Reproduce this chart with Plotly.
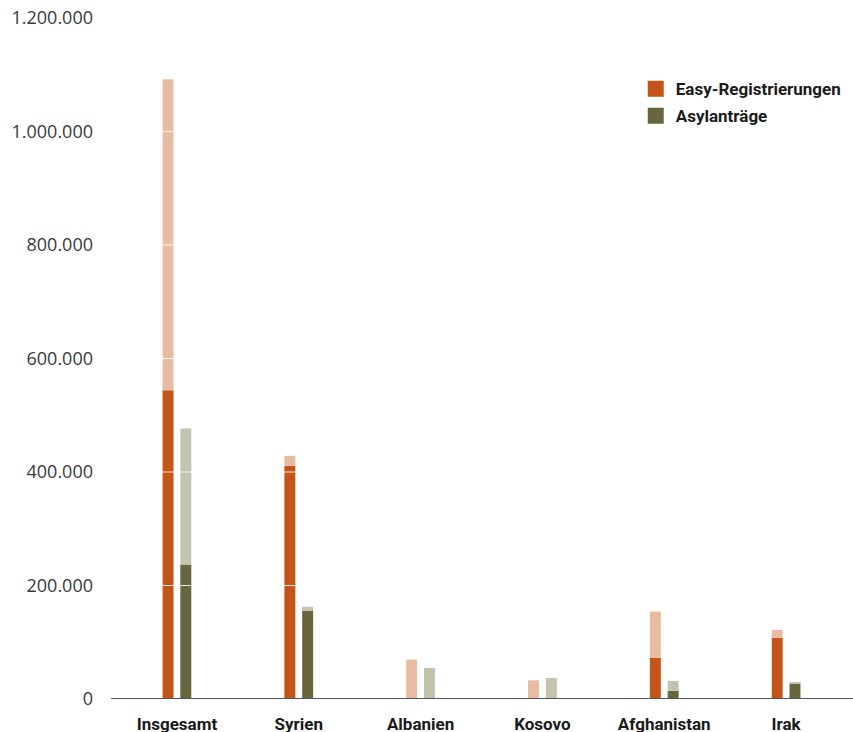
import plotly.graph_objects as go

categories = ["Insgesamt", "Syrien", "Albanien", "Kosovo", "Afghanistan", "Irak"]
easy_total = [1092000, 428500, 69400, 33000, 154000, 121700]
easy_dark = [544000, 411000, 1500, 1500, 72800, 108000]
asyl_total = [476600, 162500, 54800, 37100, 31900, 29800]
asyl_dark = [237000, 155000, 1500, 1500, 14600, 27000]
y_ticks = [0, 200000, 400000, 600000, 800000, 1000000, 1200000]

C_EASY = "#C55418"
C_EASY_L = "#E8BCA3"
C_ASYL = "#68663E"
C_ASYL_L = "#C3C3B0"

easy_light = [t - d for t, d in zip(easy_total, easy_dark)]
asyl_light = [t - d for t, d in zip(asyl_total, asyl_dark)]

W = 0.09
fig = go.Figure()
fig.add_trace(go.Bar(x=categories, y=easy_dark, base=[0]*6, marker_color=C_EASY,
                     width=W, offset=-0.028 - W, showlegend=False, hoverinfo="skip"))
fig.add_trace(go.Bar(x=categories, y=easy_light, base=easy_dark, marker_color=C_EASY_L,
                     width=W, offset=-0.028 - W, showlegend=False, hoverinfo="skip"))
fig.add_trace(go.Bar(x=categories, y=asyl_dark, base=[0]*6, marker_color=C_ASYL,
                     width=W, offset=0.028, showlegend=False, hoverinfo="skip"))
fig.add_trace(go.Bar(x=categories, y=asyl_light, base=asyl_dark, marker_color=C_ASYL_L,
                     width=W, offset=0.028, showlegend=False, hoverinfo="skip"))

# legend entries
for name, col, grp in [("Easy-Registrierungen", C_EASY, "a"), ("Asylanträge", C_ASYL, "b")]:
    fig.add_trace(go.Scatter(x=[None], y=[None], mode="markers", name=name, legendgroup=grp,
                             marker=dict(symbol="square", size=22, color=col)))

shapes = []
for t in y_ticks[1:]:
    shapes.append(dict(type="line", xref="paper", yref="y", x0=0, x1=1, y0=t, y1=t,
                       line=dict(color="rgba(255,255,255,0.85)", width=1.2), layer="above"))
shapes.append(dict(type="line", xref="paper", yref="y", x0=-0.007, x1=1.02, y0=0, y1=0,
                   line=dict(color="#555555", width=2), layer="above"))

fig.update_layout(
    template="none",
    width=853, height=732,
    margin=dict(l=116, r=6, t=18, b=33),
    paper_bgcolor="white", plot_bgcolor="white",
    barmode="overlay",
    separators=",.",
    shapes=shapes,
    legend=dict(x=0.711, y=0.922, xanchor="left", yanchor="top",
                itemsizing="trace", tracegroupgap=2, borderwidth=0,
                font=dict(family="Roboto, sans-serif", size=17, color="#1a1a1a",
                          weight="bold"),
                bgcolor="rgba(0,0,0,0)"),
    xaxis=dict(type="category", range=[-0.5, 5.5], showgrid=False, showline=False, zeroline=False,
               automargin=False, ticks="", ticklabelstandoff=13,
               tickfont=dict(family="Roboto, sans-serif", size=17,
                             color="#1a1a1a", weight="bold")),
    yaxis=dict(range=[0, 1200000], tickvals=y_ticks, tickformat=",d", showgrid=False,
               zeroline=False, showline=False, ticks="", ticklabelstandoff=22,
               automargin=False, ticklabeloverflow="allow",
               tickfont=dict(family="Open Sans, sans-serif", size=18, color="#3a3a3a")),
)

fig.write_html("out.html", config={"displayModeBar": False},
               post_script="document.body.style.margin='0';document.body.style.overflow='hidden';")
